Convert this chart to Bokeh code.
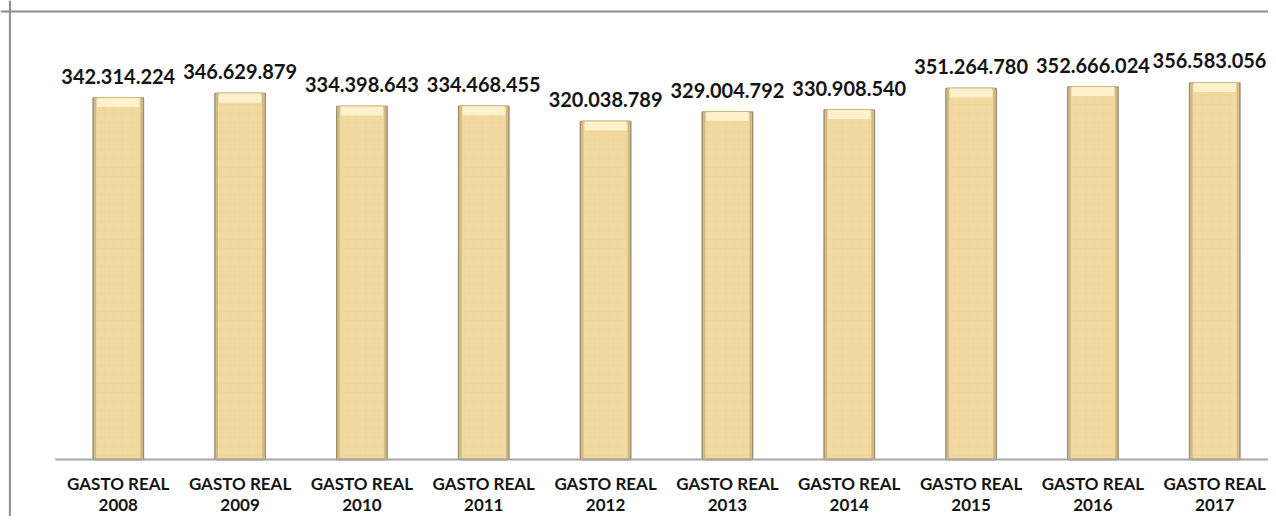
from bokeh.plotting import figure
from bokeh.models import Range1d, Span, ColumnDataSource
from bokeh.core.properties import value
from bokeh.embed import file_html
from bokeh.resources import INLINE

# ---- data ----
years = ["2008", "2009", "2010", "2011", "2012", "2013", "2014", "2015", "2016", "2017"]
category_prefix = "GASTO REAL"
gasto_real = [342314224, 346629879, 334398643, 334468455, 320038789,
              329004792, 330908540, 351264780, 352666024, 356583056]
value_labels = ["342.314.224", "346.629.879", "334.398.643", "334.468.455", "320.038.789",
                "329.004.792", "330.908.540", "351.264.780", "352.666.024", "356.583.056"]

# ---- layout / style ----
W, H = 1268, 516
KX = W / 1276.0                 # fit the reference's width into the figure
PX_PER_CAT = 122.6 * KX
X0 = -118.5 * KX / PX_PER_CAT
X1 = X0 + W / PX_PER_CAT
PX_PER_VAL = 1.056e-6
Y1 = 459 / PX_PER_VAL
Y0 = -(H - 459) / PX_PER_VAL
BAR_W = 0.413
LABEL_HALF_W = 57  # approx. half width of a value label, px

idx = list(range(len(years)))
# keep value labels inside the picture (clamp at right edge)
lbl_xoff = [min(0.0, (W - 2) - ((i - X0) * PX_PER_CAT + LABEL_HALF_W)) for i in idx]

src = ColumnDataSource(dict(
    x=idx,
    top=gasto_real,
    cap_bottom=[v - 9 / PX_PER_VAL for v in gasto_real],
    lbl=value_labels,
    lbl_xoff=lbl_xoff,
    cat1=[category_prefix] * len(years),
    cat2=years,
    zero=[0] * len(years),
))

p = figure(width=W, height=H, output_backend="svg", toolbar_location=None,
           x_range=Range1d(X0, X1), y_range=Range1d(Y0, Y1),
           min_border_left=0, min_border_right=0, min_border_top=0, min_border_bottom=0)
p.xaxis.visible = False
p.yaxis.visible = False
p.grid.visible = False
p.outline_line_color = None
p.background_fill_color = "white"
p.border_fill_color = "white"

# chart border (left & top visible, others lie beyond the picture)
p.add_layout(Span(location=X0 + 9.4 / PX_PER_CAT, dimension="height",
                  line_color="#8c8c8c", line_width=2))
p.add_layout(Span(location=Y1 - 11 / PX_PER_VAL, dimension="width",
                  line_color="#8c8c8c", line_width=2))

# bars
p.vbar(x="x", top="top", bottom=0, width=BAR_W, source=src,
       fill_color="#f2d9a0", line_color="#9d8c68", line_width=1.5,
       hatch_pattern="cross", hatch_color="#e0c58a", hatch_alpha=0.3,
       hatch_scale=9, hatch_weight=0.6)
# inner edge shading
p.vbar(x="x", top="top", bottom=0, width=BAR_W - 4 / PX_PER_CAT, source=src,
       fill_color=None, line_color="#cfb886", line_width=2)
# top bevel highlight
p.vbar(x="x", top="top", bottom="cap_bottom", width=BAR_W - 8 / PX_PER_CAT, source=src,
       fill_color="#fdf2cc", line_color=None)

# axis line
p.line(x=[X0 + 54.7 / PX_PER_CAT, X1 + 1], y=[0, 0], line_color="#a6a6a6", line_width=2)

# value labels
p.text(x="x", y="top", text="lbl", source=src, text_align="center",
       text_baseline="alphabetic", y_offset=-22, x_offset="lbl_xoff",
       text_font=value("Lato"), text_font_style="bold", text_font_size="20px",
       text_color="#141414")

# category labels
p.text(x="x", y="zero", text="cat1", source=src, text_align="center",
       text_baseline="alphabetic", y_offset=24,
       text_font=value("Lato"), text_font_style="bold", text_font_size="17px",
       text_color="#141414")
p.text(x="x", y="zero", text="cat2", source=src, text_align="center",
       text_baseline="alphabetic", y_offset=45,
       text_font=value("Lato"), text_font_style="bold", text_font_size="17px",
       text_color="#141414")

open("out.html", "w").write(file_html(p, INLINE))
